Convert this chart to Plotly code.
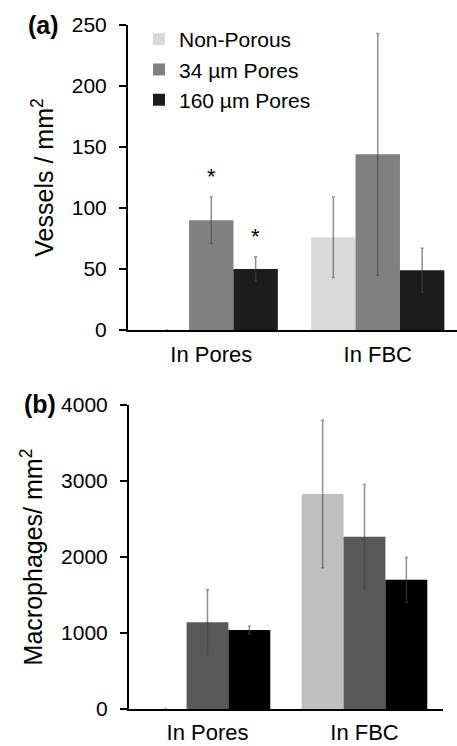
import plotly.graph_objects as go

W, H = 457, 746

categories = ["In Pores", "In FBC"]
series_names = ["Non-Porous", "34 µm Pores", "160 µm Pores"]

# Panel (a): Vessels / mm²
vessels_nonporous = [0, 76]
vessels_34 = [90, 144]
vessels_160 = [50, 49]
vessels_err_nonporous = [0, 33]
vessels_err_34 = [19, 99]
vessels_err_160 = [10, 18]

# Panel (b): Macrophages / mm²
mac_nonporous = [0, 2830]
mac_34 = [1140, 2265]
mac_160 = [1040, 1700]
mac_err_nonporous = [0, 970]
mac_err_34 = [430, 690]
mac_err_160 = [50, 295]

y_ticks_a = [0, 50, 100, 150, 200, 250]
y_ticks_b = [0, 1000, 2000, 3000, 4000]

colors_a = ["#d9d9d9", "#808080", "#1c1c1c"]
colors_b = ["#bfbfbf", "#595959", "#000000"]
err_color = "rgba(70,70,70,0.6)"
FONT = "Liberation Sans, Arial, sans-serif"

def px_x(p):
    return p / W

def px_y(p):
    return 1 - p / H

fig = go.Figure()

vals_a = [vessels_nonporous, vessels_34, vessels_160]
errs_a = [vessels_err_nonporous, vessels_err_34, vessels_err_160]
for name, v, e, c in zip(series_names, vals_a, errs_a, colors_a):
    fig.add_trace(go.Bar(
        x=categories, y=v, name=name, marker=dict(color=c, line=dict(width=0)),
        error_y=dict(type="data", array=e, color=err_color, thickness=1.5, width=1.5),
        xaxis="x", yaxis="y", showlegend=True,
    ))

vals_b = [mac_nonporous, mac_34, mac_160]
errs_b = [mac_err_nonporous, mac_err_34, mac_err_160]
for name, v, e, c in zip(series_names, vals_b, errs_b, colors_b):
    fig.add_trace(go.Bar(
        x=categories, y=v, name=name, marker=dict(color=c, line=dict(width=0)),
        error_y=dict(type="data", array=e, color=err_color, thickness=1.5, width=1.5),
        xaxis="x2", yaxis="y2", showlegend=False,
    ))

axis_common = dict(
    showgrid=False, zeroline=False, showline=True, linecolor="black", linewidth=2,
    automargin=False,
)
xtick_font = dict(family=FONT, size=22, color="black")
ytick_font = dict(family=FONT, size=21, color="black")

fig.update_layout(
    width=W, height=H,
    margin=dict(l=0, r=0, t=0, b=0, autoexpand=False),
    paper_bgcolor="white", plot_bgcolor="white",
    barmode="group", bargap=0.2, bargroupgap=0,
    font=dict(family=FONT, color="black"),
    xaxis=dict(domain=[px_x(128), 1.0], anchor="y", range=[-0.5, 1.476],
               type="category", ticks="", tickfont=xtick_font, ticklabelstandoff=4,
               **axis_common),
    yaxis=dict(domain=[px_y(330), px_y(25)], anchor="x", range=[0, 250],
               tickvals=y_ticks_a, ticks="outside", ticklen=7, tickwidth=2, tickcolor="black",
               tickfont=ytick_font, ticklabelstandoff=8,
               title=dict(text="Vessels / mm<sup>2</sup>", font=dict(family=FONT, size=25, color="black"),
                          standoff=11),
               **axis_common),
    xaxis2=dict(domain=[px_x(129), px_x(443)], anchor="y2", range=[-0.5, 1.5],
                type="category", ticks="", tickfont=xtick_font, ticklabelstandoff=3,
                **axis_common),
    yaxis2=dict(domain=[px_y(709), px_y(405)], anchor="x2", range=[0, 4000],
                tickvals=y_ticks_b, ticks="outside", ticklen=7, tickwidth=2, tickcolor="black",
                tickfont=ytick_font, ticklabelstandoff=8,
                title=dict(text="Macrophages/ mm<sup>2</sup>", font=dict(family=FONT, size=25, color="black"),
                           standoff=11),
                **axis_common),
    legend=dict(x=px_x(139), y=px_y(19), xanchor="left", yanchor="top",
                font=dict(family=FONT, size=21, color="black"),
                bgcolor="rgba(0,0,0,0)", tracegroupgap=0, itemwidth=30),
)

# Panel labels
fig.add_annotation(text="<b>(a)</b>", xref="paper", yref="paper", x=px_x(43), y=px_y(25),
                   xanchor="center", yanchor="middle", showarrow=False,
                   font=dict(family=FONT, size=25, color="black"))
fig.add_annotation(text="<b>(b)</b>", xref="paper", yref="paper", x=px_x(40), y=px_y(404),
                   xanchor="center", yanchor="middle", showarrow=False,
                   font=dict(family=FONT, size=25, color="black"))

# Significance asterisks above error bars (panel a)
bar_offset = 0.8 / 3
for idx, (v, e) in enumerate([(vessels_34[0], vessels_err_34[0]), (vessels_160[0], vessels_err_160[0])]):
    fig.add_annotation(text="*", x=idx * bar_offset, y=v + e, xref="x", yref="y",
                       xanchor="center", yanchor="bottom", showarrow=False, yshift=6,
                       font=dict(family=FONT, size=22, color="black"))

fig.write_html(
    "out.html",
    config={"displayModeBar": False},
    post_script="document.body.style.margin='0';document.body.style.overflow='hidden';",
)
